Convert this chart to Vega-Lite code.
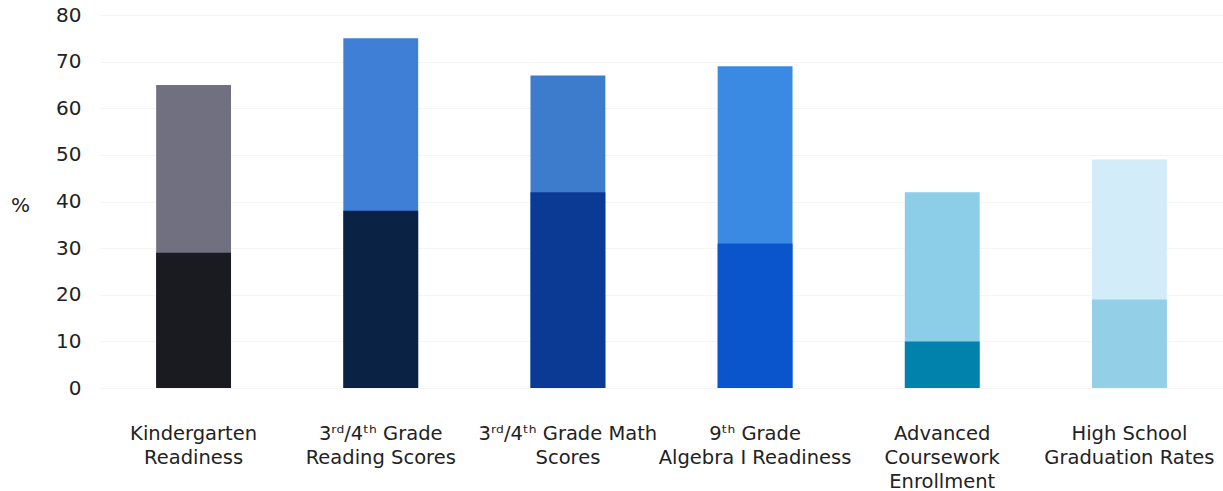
{
  "$schema": "https://vega.github.io/schema/vega-lite/v6.json",
  "autosize": "none",
  "width": 1123,
  "height": 373,
  "padding": {"left": 100, "top": 15, "right": 0, "bottom": 103},
  "background": "white",
  "config": {"view": {"stroke": null}, "font": "DejaVu Sans"},
  "data": {
    "values": [
      {"category": "Kindergarten|Readiness", "segment": "total", "key": "k_total", "value": 65},
      {"category": "3ʳᵈ/4ᵗʰ Grade|Reading Scores", "segment": "total", "key": "r_total", "value": 75},
      {"category": "3ʳᵈ/4ᵗʰ Grade Math|Scores", "segment": "total", "key": "m_total", "value": 67},
      {"category": "9ᵗʰ Grade|Algebra I Readiness", "segment": "total", "key": "a_total", "value": 69},
      {"category": "Advanced|Coursework|Enrollment", "segment": "total", "key": "c_total", "value": 42},
      {"category": "High School|Graduation Rates", "segment": "total", "key": "h_total", "value": 49},
      {"category": "Kindergarten|Readiness", "segment": "lower", "key": "k_lower", "value": 29},
      {"category": "3ʳᵈ/4ᵗʰ Grade|Reading Scores", "segment": "lower", "key": "r_lower", "value": 38},
      {"category": "3ʳᵈ/4ᵗʰ Grade Math|Scores", "segment": "lower", "key": "m_lower", "value": 42},
      {"category": "9ᵗʰ Grade|Algebra I Readiness", "segment": "lower", "key": "a_lower", "value": 31},
      {"category": "Advanced|Coursework|Enrollment", "segment": "lower", "key": "c_lower", "value": 10},
      {"category": "High School|Graduation Rates", "segment": "lower", "key": "h_lower", "value": 19}
    ]
  },
  "mark": {"type": "bar"},
  "encoding": {
    "x": {
      "field": "category",
      "type": "nominal",
      "sort": null,
      "scale": {"paddingInner": 0.6, "paddingOuter": 0.3},
      "axis": {
        "title": null,
        "labelAngle": 0,
        "labelExpr": "split(datum.label, '|')",
        "labelFontSize": 19.5,
        "labelLineHeight": 24,
        "labelColor": "#222222",
        "labelPadding": 36,
        "labelBaseline": "top",
        "labelOverlap": false,
        "labelBound": false,
        "labelFlush": false,
        "labelLimit": 0,
        "ticks": false,
        "domain": false
      }
    },
    "y": {
      "field": "value",
      "type": "quantitative",
      "stack": null,
      "scale": {"domain": [0, 80]},
      "axis": {
        "title": "%",
        "titleAngle": 0,
        "titleFontSize": 20,
        "titleFontWeight": "normal",
        "titleColor": "#222222",
        "titleX": -80,
        "titleY": 190,
        "titleAlign": "center",
        "titleBaseline": "middle",
        "values": [0, 10, 20, 30, 40, 50, 60, 70, 80],
        "labelFontSize": 20,
        "labelColor": "#222222",
        "labelPadding": 19,
        "ticks": false,
        "domain": false,
        "grid": true,
        "gridColor": "#f5f5f5",
        "gridWidth": 1
      }
    },
    "color": {
      "field": "key",
      "type": "nominal",
      "legend": null,
      "scale": {
        "domain": ["k_total", "r_total", "m_total", "a_total", "c_total", "h_total", "k_lower", "r_lower", "m_lower", "a_lower", "c_lower", "h_lower"],
        "range": ["#707080", "#3f7fd6", "#3d7ccc", "#3a8ae4", "#8ccde8", "#d2ecfa", "#1a1b20", "#0a2244", "#0b3a94", "#0b55cc", "#0082ad", "#94cfe8"]
      }
    }
  }
}
